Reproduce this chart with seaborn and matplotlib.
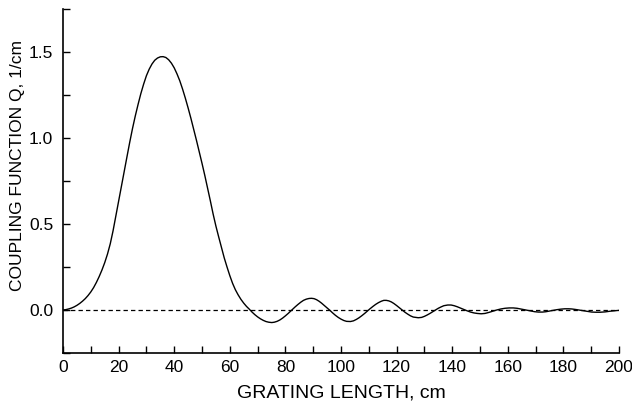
import matplotlib
matplotlib.use("Agg")
import matplotlib.pyplot as plt
from matplotlib.ticker import MultipleLocator
import seaborn as sns
import pandas as pd

# Grating length (cm) and coupling function Q (1/cm)
length_cm = [0, 1, 2, 3, 4, 5, 6, 7, 8, 9, 10, 11, 12, 13, 14, 15, 16, 17, 18, 19,
             20, 21, 22, 23, 24, 25, 26, 27, 28, 29, 30, 31, 32, 33, 34, 35, 36, 37,
             38, 39, 40, 41, 42, 43, 44, 45, 46, 47, 48, 49, 50, 51, 52, 53, 54, 55,
             56, 57, 58, 59, 60, 61, 62, 63, 64, 65, 66, 67, 68, 69, 70, 71, 72, 73,
             74, 75.1, 76.0, 77.0, 78.0, 79.0, 80.0, 81.0, 82.3, 83.5, 84.5, 85.5,
             86.5, 87.5, 88.5, 89.4, 90.3, 91.2, 92.1, 93.0, 94.0, 95.0, 96.0, 97.0,
             98.0, 99.0, 100.0, 101.0, 102.0, 103.4, 104.5, 105.5, 106.5, 107.5,
             108.5, 109.5, 110.5, 111.5, 112.5, 113.5, 114.5, 115.4, 116.3, 117.2,
             118.1, 119.0, 120.0, 121.0, 122.0, 123.0, 124.0, 125.0, 126.0, 127.8,
             129.0, 130.0, 131.0, 132.0, 133.0, 134.0, 135.0, 136.0, 137.0, 138.4,
             139.6, 140.7, 141.8, 143.0, 144.2, 145.4, 146.6, 147.8, 149.0, 150.4,
             151.8, 153.2, 154.6, 156.0, 157.5, 159.0, 160.5, 162.0, 163.3, 164.6,
             165.8, 167.1, 168.4, 169.7, 171.0, 172.5, 173.7, 175.0, 176.4, 177.7,
             179.1, 180.5, 181.9, 183.0, 184.4, 185.9, 187.3, 188.8, 190.2, 191.7,
             193.2, 195.0, 196.8, 198.6, 200.0]
coupling_q = [0.000, 0.002, 0.006, 0.011, 0.018, 0.027, 0.038, 0.051, 0.066, 0.084,
              0.105, 0.130, 0.160, 0.194, 0.232, 0.275, 0.325, 0.385, 0.460, 0.545,
              0.632, 0.718, 0.805, 0.890, 0.975, 1.055, 1.128, 1.195, 1.258, 1.313,
              1.362, 1.400, 1.430, 1.452, 1.465, 1.472, 1.473, 1.468, 1.455, 1.435,
              1.408, 1.373, 1.333, 1.285, 1.232, 1.175, 1.115, 1.052, 0.987, 0.920,
              0.853, 0.783, 0.710, 0.635, 0.558, 0.488, 0.425, 0.365, 0.303, 0.250,
              0.200, 0.155, 0.118, 0.088, 0.062, 0.040, 0.021, 0.005, -0.012, -0.027,
              -0.040, -0.051, -0.060, -0.067, -0.071, -0.073, -0.071, -0.066, -0.058,
              -0.047, -0.034, -0.020, 0.000, 0.018, 0.032, 0.045, 0.056, 0.063, 0.067,
              0.068, 0.066, 0.060, 0.051, 0.040, 0.026, 0.012, -0.002, -0.017, -0.031,
              -0.043, -0.053, -0.061, -0.066, -0.067, -0.063, -0.055, -0.045, -0.033,
              -0.020, -0.006, 0.008, 0.021, 0.033, 0.043, 0.051, 0.056, 0.056, 0.053,
              0.047, 0.038, 0.026, 0.013, 0.000, -0.013, -0.024, -0.034, -0.041,
              -0.045, -0.043, -0.037, -0.029, -0.020, -0.010, 0.000, 0.010, 0.018,
              0.025, 0.029, 0.029, 0.025, 0.019, 0.011, 0.003, -0.005, -0.012, -0.017,
              -0.020, -0.022, -0.020, -0.014, -0.007, 0.000, 0.006, 0.010, 0.012,
              0.012, 0.010, 0.006, 0.002, -0.002, -0.006, -0.010, -0.012, -0.012,
              -0.010, -0.006, -0.002, 0.002, 0.005, 0.007, 0.007, 0.006, 0.003,
              -0.001, -0.005, -0.009, -0.012, -0.013, -0.013, -0.011, -0.007, -0.004,
              -0.002]

xticks = [0, 20, 40, 60, 80, 100, 120, 140, 160, 180, 200]
yticks = [0.0, 0.5, 1.0, 1.5]
xlabel = "GRATING LENGTH, cm"
ylabel = "COUPLING FUNCTION Q, 1/cm"

df = pd.DataFrame({"length": length_cm, "q": coupling_q})

sns.set_theme(style="ticks")
plt.rcParams["font.family"] = ["Liberation Sans", "DejaVu Sans"]

fig = plt.figure(figsize=(6.32, 4.05), dpi=100)
ax = fig.add_axes([63 / 632, 1 - 353 / 405, (619 - 63) / 632, (353 - 9) / 405])

ax.axhline(0, xmin=0, xmax=1, color="black", lw=0.9, linestyle=(0, (3.5, 2.5)), zorder=1)
sns.lineplot(data=df, x="length", y="q", ax=ax, color="black", lw=1.0,
             estimator=None, sort=False, zorder=2)

ax.set_xlim(0, 200)
ax.set_ylim(-0.25, 1.75)
ax.set_xticks(xticks)
ax.set_xticklabels([str(t) for t in xticks])
ax.set_yticks(yticks)
ax.set_yticklabels([f"{t:.1f}" for t in yticks])
ax.xaxis.set_minor_locator(MultipleLocator(10))
ax.yaxis.set_minor_locator(MultipleLocator(0.25))
ax.tick_params(which="both", direction="in", length=5, width=1.0, colors="black",
               labelsize=12.5, pad=5)
ax.tick_params(axis="y", which="both", pad=7)

for s in ["top", "right"]:
    ax.spines[s].set_visible(False)
for s in ["left", "bottom"]:
    ax.spines[s].set_linewidth(1.2)
    ax.spines[s].set_color("black")

ax.set_xlabel(xlabel, fontsize=14, labelpad=7, color="black")
ax.set_ylabel(ylabel, fontsize=12.5, color="black")
ax.yaxis.set_label_coords(-0.068, 0.544)

fig.savefig("out.png", dpi=100)
